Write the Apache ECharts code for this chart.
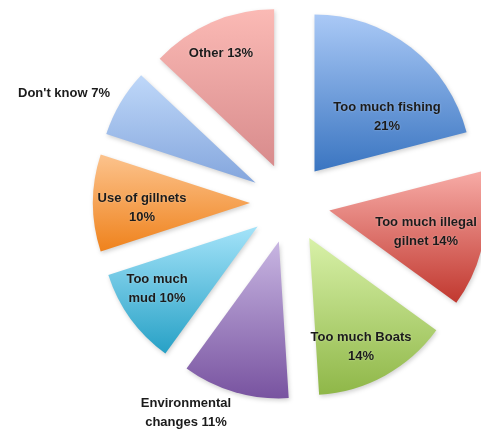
<!DOCTYPE html>
<html>
<head>
<meta charset="utf-8">
<script src="https://cdn.jsdelivr.net/npm/echarts@6/dist/echarts.min.js"></script>
<style>
  html, body { margin: 0; padding: 0; background: #ffffff; }
  #chart { width: 481px; height: 436px; }
</style>
</head>
<body>
<div id="chart"></div>
<script>
// Causes named by respondents, clockwise from 12 o'clock
const categories = [
  'Too much fishing',
  'Too much illegal gilnet',
  'Too much Boats',
  'Environmental changes',
  'Too much mud',
  'Use of gillnets',
  "Don't know",
  'Other'
];
const shares = [21, 14, 14, 11, 10, 10, 7, 13];

// Label text as two lines, per slice
const labelLines = [
  ['Too much fishing', '21%'],
  ['Too much illegal', 'gilnet 14%'],
  ['Too much Boats', '14%'],
  ['Environmental', 'changes 11%'],
  ['Too much', 'mud 10%'],
  ['Use of gillnets', '10%'],
  ["Don't know 7%"],
  ['Other 13%']
];

// Vertical gradient (top, bottom) for each slice
const gradients = [
  ['#aac9f6', '#3a75c1'],
  ['#f7aba6', '#c1382f'],
  ['#d8f1a8', '#8fb748'],
  ['#c8b6e2', '#7853a0'],
  ['#a4e3f9', '#27a1c6'],
  ['#fcc38d', '#ef821c'],
  ['#bfd8f9', '#84a6dd'],
  ['#fbbab5', '#d88b8c']
];

// Label anchor points (centre of each text block)
const labelAnchors = [
  [387, 117], [426, 232], [361, 347], [186, 413],
  [157, 289], [142, 208], [64, 93], [221, 53]
];

const chart = echarts.init(document.getElementById('chart'), null, { renderer: 'canvas' });

const sliceShadow = {
  borderWidth: 0,
  shadowBlur: 4,
  shadowOffsetX: 1,
  shadowOffsetY: 2,
  shadowColor: 'rgba(0,0,0,0.18)'
};

const data = categories.map((name, i) => ({
  name: name,
  value: shares[i],
  selected: true,
  itemStyle: {
    color: new echarts.graphic.LinearGradient(0, 0, 0, 1, [
      { offset: 0, color: gradients[i][0] },
      { offset: 1, color: gradients[i][1] }
    ])
  }
}));

// Slice labels drawn as text elements at their anchor points
const labelTexts = labelLines.map((lines, i) => ({
  type: 'text',
  x: labelAnchors[i][0],
  y: labelAnchors[i][1],
  z: 10,
  silent: true,
  style: {
    text: lines.join('\n'),
    fontFamily: 'Liberation Sans',
    fontWeight: 'bold',
    fontSize: 13,
    lineHeight: 19,
    fill: '#1b1b1b',
    align: 'center',
    verticalAlign: 'middle',
    textShadowColor: 'rgba(255,255,255,0.35)',
    textShadowBlur: 2
  }
}));

chart.setOption({
  animation: false,
  backgroundColor: '#ffffff',
  graphic: labelTexts,
  series: [{
    type: 'pie',
    center: [290, 203],
    radius: [0, 157],
    startAngle: 90,
    clockwise: true,
    selectedMode: 'multiple',
    selectedOffset: 40,
    silent: true,
    itemStyle: sliceShadow,
    select: { itemStyle: sliceShadow },
    label: { show: false },
    labelLine: { show: false },
    data: data
  }]
});
</script>
</body>
</html>
